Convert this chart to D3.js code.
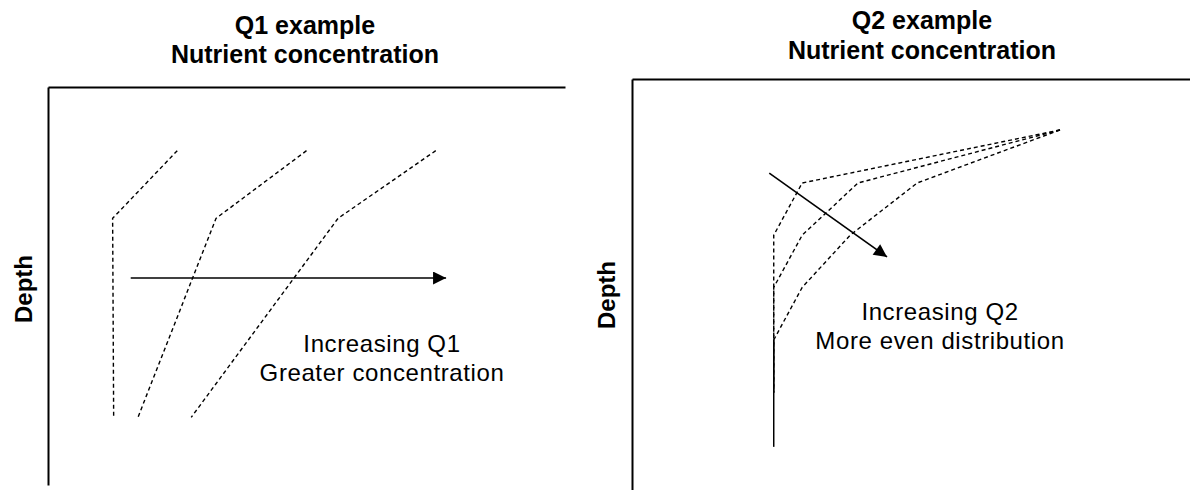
<!DOCTYPE html>
<html>
<head>
<meta charset="utf-8">
<script src="https://cdn.jsdelivr.net/npm/d3@7"></script>
<style>
  body { margin: 0; background: #fff; }
  svg text { font-family: "Liberation Sans", Arial, sans-serif; fill: #000; }
</style>
</head>
<body>
<svg id="chart" width="1190" height="490"></svg>
<script>
// Q1 panel: nutrient concentration vs depth (arbitrary units 0-100)
var q1Depth = [16, 33, 83];
var q1Low = [25, 12.5, 12.7];
var q1Mid = [50, 32.5, 17.4];
var q1High = [75, 56.1, 27.7];
var q1Arrow = [[16, 48], [77, 48]];

// Q2 panel
var q2Depth = [12.4, 25.3, 38, 50.7, 63.5, 76.3];
var q2Low = [76.7, 30.5, 25.4, 25.4, 25.4, 25.4];
var q2Mid = [76.7, 40.5, 30.5, 25.4, 25.4, 25.4];
var q2High = [76.7, 51.1, 39.1, 30.5, 25.4, 25.4];
var q2BaseDepth = [63.5, 89.5];
var q2BaseConc = [25.4, 25.4];
var q2Arrow = [[24.6, 22.9], [45.7, 43.3]];

var svg = d3.select("#chart");

svg.append("defs").append("marker")
    .attr("id", "head")
    .attr("viewBox", "0 0 10 10")
    .attr("refX", 10).attr("refY", 5)
    .attr("markerWidth", 15).attr("markerHeight", 13)
    .attr("markerUnits", "userSpaceOnUse")
    .attr("orient", "auto")
  .append("path")
    .attr("d", "M0,0L10,5L0,10Z")
    .attr("fill", "#000");

function drawPanel(cfg) {
    var x = d3.scaleLinear().domain([0, 100]).range(cfg.xr);
    var y = d3.scaleLinear().domain([0, 100]).range(cfg.yr);
    var g = svg.append("g");

    // frame: top and left only
    g.append("g")
        .attr("transform", "translate(0," + cfg.yr[0] + ")")
        .call(d3.axisTop(x).tickValues([]).tickSizeOuter(0))
        .select(".domain").attr("stroke-width", 2);
    g.append("g")
        .attr("transform", "translate(" + cfg.xr[0] + ",0)")
        .call(d3.axisLeft(y).tickValues([]).tickSizeOuter(0))
        .select(".domain").attr("stroke-width", 2);

    var line = d3.line()
        .x(function(d) { return x(d[0]); })
        .y(function(d) { return y(d[1]); });

    cfg.series.forEach(function(s) {
        var pts = s.conc.map(function(c, i) { return [c, s.depth[i]]; });
        g.append("path")
            .attr("d", line(pts))
            .attr("fill", "none")
            .attr("stroke", "#000")
            .attr("stroke-width", s.solid ? 1.5 : 1.4)
            .attr("stroke-dasharray", s.solid ? null : "4,3");
    });

    g.append("path")
        .attr("d", line(cfg.arrow))
        .attr("stroke", "#000")
        .attr("stroke-width", 1.6)
        .attr("marker-end", "url(#head)");

    // titles
    cfg.title.forEach(function(t, i) {
        g.append("text")
            .attr("x", cfg.titleX)
            .attr("y", cfg.titleY[i])
            .attr("text-anchor", "middle")
            .attr("font-size", 25)
            .attr("font-weight", "bold")
            .text(t);
    });

    g.append("text")
        .attr("transform", "translate(" + cfg.depthPos[0] + "," + cfg.depthPos[1] + ") rotate(-90)")
        .attr("text-anchor", "middle")
        .attr("font-size", 24)
        .attr("font-weight", "bold")
        .text("Depth");

    cfg.note.forEach(function(t, i) {
        g.append("text")
            .attr("x", x(cfg.noteAt[0]))
            .attr("y", y(cfg.noteAt[1]) + i * 29)
            .attr("text-anchor", "middle")
            .attr("font-size", 24)
            .attr("letter-spacing", 0.6)
            .text(t);
    });
}

drawPanel({
    xr: [48, 565], yr: [87, 485],
    series: [
        {depth: q1Depth, conc: q1Low},
        {depth: q1Depth, conc: q1Mid},
        {depth: q1Depth, conc: q1High}
    ],
    arrow: q1Arrow,
    title: ["Q1 example", "Nutrient concentration"],
    titleX: 305, titleY: [34, 63],
    depthPos: [32, 289],
    note: ["Increasing Q1", "Greater concentration"],
    noteAt: [64.6, 66.6]
});

drawPanel({
    xr: [632, 1190], yr: [79, 490],
    series: [
        {depth: q2BaseDepth, conc: q2BaseConc, solid: true},
        {depth: q2Depth, conc: q2Low},
        {depth: q2Depth, conc: q2Mid},
        {depth: q2Depth, conc: q2High}
    ],
    arrow: q2Arrow,
    title: ["Q2 example", "Nutrient concentration"],
    titleX: 922, titleY: [29, 59],
    depthPos: [615, 295],
    note: ["Increasing Q2", "More even distribution"],
    noteAt: [55.2, 58.6]
});
</script>
</body>
</html>
